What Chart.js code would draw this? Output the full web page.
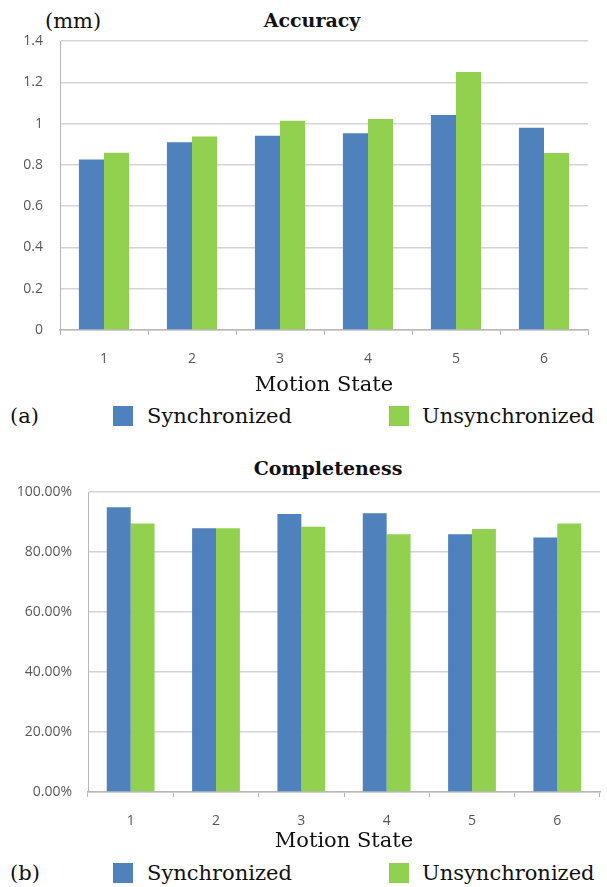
<!DOCTYPE html>
<html lang="en">
<head>
    <meta charset="UTF-8">
    <title>Accuracy and Completeness by Motion State</title>
    <script src="https://cdn.jsdelivr.net/npm/chart.js@4.4.2/dist/chart.umd.min.js"></script>
    <style>
        body {
            margin: 0;
            background: #ffffff;
            width: 607px;
            height: 887px;
            position: relative;
            overflow: hidden;
            font-family: 'DejaVu Serif', serif;
            color: #111;
        }
        .box { position: absolute; }
        .title {
            position: absolute;
            font-weight: bold;
            font-size: 19px;
            height: 30px;
            line-height: 30px;
            white-space: nowrap;
            transform: translateX(-50%);
        }
        .txt {
            position: absolute;
            font-size: 21px;
            height: 30px;
            line-height: 30px;
            white-space: nowrap;
        }
        .swatch {
            position: absolute;
            width: 20px;
            height: 20px;
        }
    </style>
</head>
<body>
    <!-- (a) Accuracy -->
    <div class="title" style="left:312px; top:5px;">Accuracy</div>
    <div class="txt" style="left:45px; top:6px;">(mm)</div>
    <div class="box" style="left:0; top:0; width:607px; height:398px;">
        <canvas id="accChart"></canvas>
    </div>
    <div class="txt" style="left:10px; top:401px;">(a)</div>
    <div class="swatch" style="left:113px; top:406px; background:#4F81BD;"></div>
    <div class="txt" style="left:147px; top:401px;">Synchronized</div>
    <div class="swatch" style="left:389px; top:406px; background:#92D050;"></div>
    <div class="txt" style="left:422px; top:401px;">Unsynchronized</div>

    <!-- (b) Completeness -->
    <div class="title" style="left:328px; top:453px;">Completeness</div>
    <div class="box" style="left:0; top:440px; width:607px; height:414px;">
        <canvas id="compChart"></canvas>
    </div>
    <div class="txt" style="left:10px; top:858px;">(b)</div>
    <div class="swatch" style="left:113px; top:863px; background:#4F81BD;"></div>
    <div class="txt" style="left:147px; top:858px;">Synchronized</div>
    <div class="swatch" style="left:389px; top:863px; background:#92D050;"></div>
    <div class="txt" style="left:422px; top:858px;">Unsynchronized</div>

    <script>
    // --- Data ---
    const motionStates = ['1', '2', '3', '4', '5', '6'];

    const accSync = [0.826, 0.909, 0.941, 0.953, 1.042, 0.980];
    const accUnsync = [0.859, 0.937, 1.014, 1.022, 1.250, 0.858];
    const accTickLabels = ['0', '0.2', '0.4', '0.6', '0.8', '1', '1.2', '1.4'];

    const compSync = [94.9, 87.9, 92.7, 92.9, 85.9, 84.8];
    const compUnsync = [89.5, 87.9, 88.4, 85.9, 87.7, 89.5];
    const compTickLabels = ['0.00%', '20.00%', '40.00%', '60.00%', '80.00%', '100.00%'];

    const BLUE = '#4F81BD';
    const GREEN = '#92D050';
    const GRID = '#d4d4d4';
    const AXIS = '#b8b8b8';
    const TICK_FONT = { family: 'Open Sans', size: 14 };

    function makeChart(id, sync, unsync, tickLabels, opt) {
        new Chart(document.getElementById(id), {
            type: 'bar',
            data: {
                labels: motionStates,
                datasets: [
                    { label: 'Synchronized', data: sync, backgroundColor: BLUE },
                    { label: 'Unsynchronized', data: unsync, backgroundColor: GREEN }
                ]
            },
            options: {
                responsive: true,
                maintainAspectRatio: false,
                animation: false,
                layout: { padding: { top: opt.top, right: opt.right, left: 0, bottom: 0 } },
                datasets: { bar: { categoryPercentage: opt.catPct, barPercentage: 1.0 } },
                plugins: { legend: { display: false }, tooltip: { enabled: false } },
                scales: {
                    x: {
                        afterFit: s => { s.height = opt.xHeight; },
                        grid: { drawOnChartArea: false, drawTicks: true, tickLength: 5, color: AXIS, lineWidth: 1 },
                        border: { display: true, color: AXIS, width: 1.5 },
                        ticks: { color: '#595959', font: TICK_FONT, padding: opt.xPad },
                        title: {
                            display: true,
                            text: 'Motion State',
                            color: '#111',
                            font: { family: 'DejaVu Serif', size: 21, lineHeight: 1.2 },
                            padding: { top: 0, bottom: 0 }
                        }
                    },
                    y: {
                        min: 0,
                        max: opt.max,
                        afterFit: s => { s.width = opt.yWidth; },
                        afterBuildTicks: s => {
                            s.ticks = tickLabels.map((_, i) => ({ value: i * opt.step }));
                        },
                        grid: { color: GRID, lineWidth: 1.5, drawTicks: false },
                        border: { display: true, color: AXIS, width: 1 },
                        ticks: {
                            color: '#595959',
                            font: TICK_FONT,
                            padding: opt.yPad,
                            callback: (v, i) => tickLabels[i]
                        }
                    }
                }
            }
        });
    }

    makeChart('accChart', accSync, accUnsync, accTickLabels, {
        top: 41, right: 19, catPct: 0.57, xHeight: 68, xPad: 16,
        max: 1.4, step: 0.2, yWidth: 60, yPad: 17
    });

    makeChart('compChart', compSync, compUnsync, compTickLabels, {
        top: 52, right: 7, catPct: 0.56, xHeight: 62, xPad: 16,
        max: 100, step: 20, yWidth: 88, yPad: 16
    });
    </script>
</body>
</html>
